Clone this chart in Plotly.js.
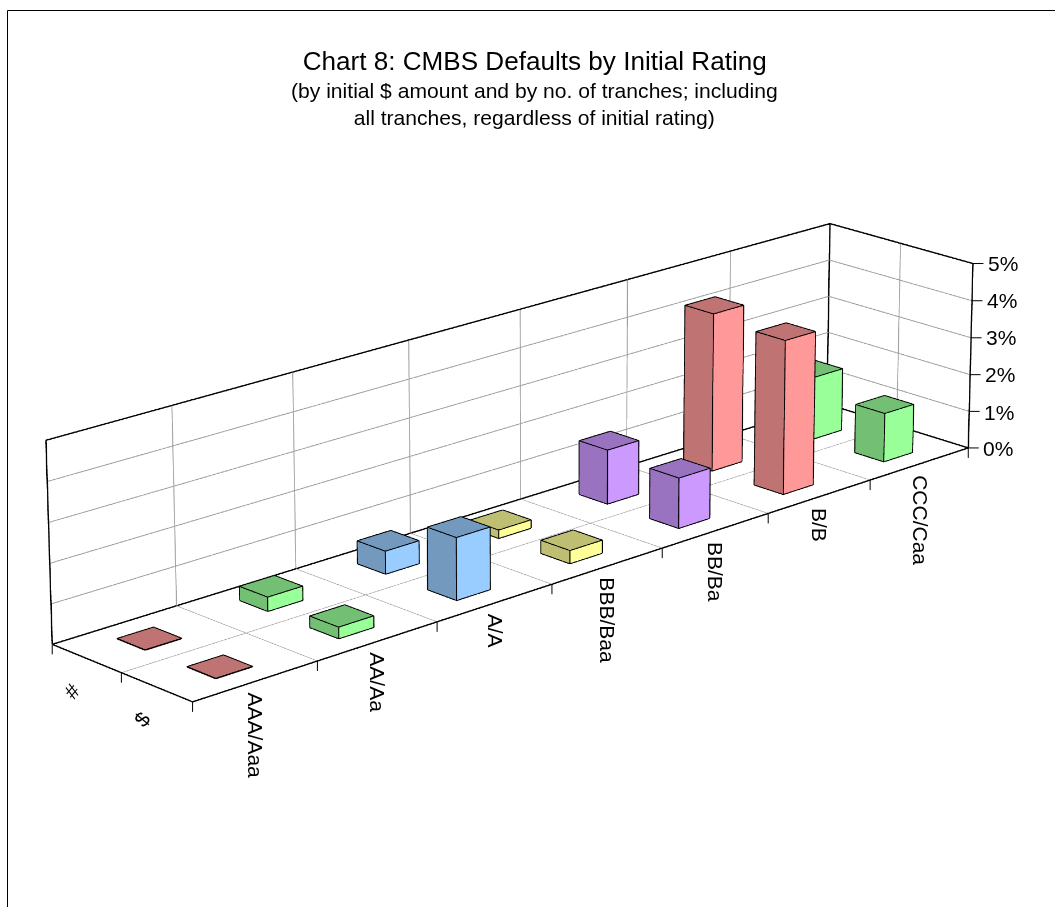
<!DOCTYPE html>
<html><head><meta charset="utf-8">
<script src="https://cdn.plot.ly/plotly-3.0.1.min.js"></script>
<style>html,body{margin:0;padding:0;background:#fff;overflow:hidden;width:1055px;height:907px}
#chart{position:absolute;left:-1px;top:-1804px;width:1458px;height:4316px}</style>
</head><body><div id="chart"></div>
<script>
// The plot is laid out larger than the window so the fixed 45 degree lens acts as a long one.
const PLOT_W = 1458, PLOT_H = 4316, PLOT_LEFT = -1, PLOT_TOP = -1804;
const paperX = px => (px - PLOT_LEFT) / PLOT_W;
const paperY = py => 1 - (py - PLOT_TOP) / PLOT_H;

const ratings = ['AAA/Aaa', 'AA/Aa', 'A/A', 'BBB/Baa', 'BB/Ba', 'B/B', 'CCC/Caa'];
const rows = ['$', '#'];
const dollarDefaults = [0, 0.28, 1.58, 0.33, 1.31, 4.07, 1.3];
const trancheDefaults = [0, 0.35, 0.58, 0.21, 1.42, 4.2, 1.68];
const percentTicks = [0, 1, 2, 3, 4, 5];
const lightFaces = ['#FF9999', '#99FF99', '#99CCFF', '#FFFF99', '#CC99FF', '#FF9999', '#99FF99'];
const darkFaces = ['#BF7373', '#73BF73', '#7399BF', '#BFBF73', '#9973BF', '#BF7373', '#73BF73'];

const traces = [];
const edgeX = [], edgeY = [], edgeZ = [];
function segment(a, b) {
  edgeX.push(a[0], b[0], null); edgeY.push(a[1], b[1], null); edgeZ.push(a[2], b[2], null);
}
function addBar(cat, row, v) {
  const x0 = cat + 0.355, x1 = cat + 0.645, y0 = row + 0.3, y1 = row + 0.7;
  traces.push({
    type: 'mesh3d', name: ratings[cat] + ' ' + rows[row],
    x: [x0, x1, x1, x0, x0, x1, x1, x0], y: [y0, y0, y1, y1, y0, y0, y1, y1], z: [0, 0, 0, 0, v, v, v, v],
    i: [4, 4, 0, 0, 0, 0], j: [5, 6, 1, 5, 3, 7], k: [6, 7, 5, 4, 7, 4],
    facecolor: [darkFaces[cat], darkFaces[cat], lightFaces[cat], lightFaces[cat], darkFaces[cat], darkFaces[cat]],
    flatshading: true, lighting: {ambient: 1, diffuse: 0, specular: 0, fresnel: 0, roughness: 1},
    hoverinfo: 'skip', showscale: false
  });
  // Outlines sit a hair toward the viewer so they stay in front of the faces they trace.
  const ex = x0 - 0.004, ey = y0 - 0.006, et = v + 0.012;
  segment([ex, ey, et], [x1, ey, et]); segment([x1, ey, et], [x1, y1, et]);
  segment([x1, y1, et], [ex, y1, et]); segment([ex, y1, et], [ex, ey, et]);
  segment([ex, ey, 0], [ex, ey, et]); segment([x1, ey, 0], [x1, ey, et]); segment([ex, y1, 0], [ex, y1, et]);
  segment([ex, ey, 0], [x1, ey, 0]); segment([ex, ey, 0], [ex, y1, 0]);
}
dollarDefaults.forEach((v, i) => addBar(i, 0, v));
trancheDefaults.forEach((v, i) => addBar(i, 1, v));
traces.push({type: 'scatter3d', mode: 'lines', x: edgeX, y: edgeY, z: edgeZ, line: {color: '#000', width: 2}, hoverinfo: 'skip', showlegend: false});

// Outline of the floor and the two back walls.
const nc = ratings.length, nr = rows.length, zTop = percentTicks[percentTicks.length - 1];
const boxX = [], boxY = [], boxZ = [];
[[[0, 0, 0], [nc, 0, 0]], [[0, nr, 0], [nc, nr, 0]], [[0, 0, 0], [0, nr, 0]], [[nc, 0, 0], [nc, nr, 0]],
 [[0, nr, 0], [0, nr, zTop]], [[nc, nr, 0], [nc, nr, zTop]], [[nc, 0, 0], [nc, 0, zTop]],
 [[0, nr, zTop], [nc, nr, zTop]], [[nc, 0, zTop], [nc, nr, zTop]]].forEach(s => {
  boxX.push(s[0][0], s[1][0], null); boxY.push(s[0][1], s[1][1], null); boxZ.push(s[0][2], s[1][2], null);
});
traces.push({type: 'scatter3d', mode: 'lines', x: boxX, y: boxY, z: boxZ, line: {color: '#000', width: 2.8}, hoverinfo: 'skip', showlegend: false});

const axisBase = {showline: false, showticklabels: false, zeroline: false, showspikes: false, ticks: '', title: {text: ''},
  showgrid: true, gridcolor: '#A0A0A0', gridwidth: 2, showbackground: false, autorange: false, tickmode: 'array'};

const labelFont = {family: 'Liberation Sans', size: 21, color: '#000'};
// A tick mark is a bare arrow; its near-empty label keeps the stem from being trimmed.
const tick = (x, y, z, ax, ay) => ({x, y, z, text: ' ', font: {size: 1}, borderpad: 0, showarrow: true, arrowhead: 0, arrowwidth: 1, arrowcolor: '#000', ax, ay, standoff: 0});
const anns = [];
ratings.forEach((t, i) => anns.push({x: i + 0.5, y: 0, z: 0, text: t, textangle: 90, showarrow: false, xanchor: 'center', yanchor: 'top', yshift: -9, font: labelFont}));
percentTicks.forEach(z => {
  anns.push({x: nc, y: 0, z, text: z + '%', showarrow: false, xanchor: 'left', yanchor: 'middle', xshift: 13, yshift: z < 2 ? -1 : 0.5, font: labelFont});
  anns.push(tick(nc, 0, z, 11, 0));
});
for (let i = 0; i <= nc; i++) anns.push(tick(i, 0, 0, 0, 11));
for (let r = 1; r <= nr; r++) anns.push(tick(0, r, 0, 0, 11));
rows.forEach((t, r) => anns.push({x: 0, y: r + 0.5, z: 0, text: t, showarrow: false, textangle: -50, xshift: -15, yshift: r ? -33 : -32, font: labelFont}));

const layout = {
  width: PLOT_W, height: PLOT_H, margin: {l: 0, r: 0, t: 0, b: 0}, paper_bgcolor: '#fff', showlegend: false,
  title: {text: 'Chart 8: CMBS Defaults by Initial Rating', x: paperX(534.7), xanchor: 'center', y: paperY(61), yanchor: 'middle',
    font: {family: 'Liberation Sans', size: 26.1, color: '#000'}},
  annotations: [{xref: 'paper', yref: 'paper', x: paperX(534.4), y: paperY(104), showarrow: false, xanchor: 'center', yanchor: 'middle',
    text: '(by initial $ amount and by no. of tranches; including<br>all tranches, regardless of initial rating)',
    font: {family: 'Liberation Sans', size: 21.1, color: '#000'}}],
  shapes: [{type: 'path', xref: 'paper', yref: 'paper', line: {color: '#000', width: 1},
    path: `M ${paperX(7.5)} ${paperY(907)} L ${paperX(7.5)} ${paperY(10.5)} L ${paperX(1055)} ${paperY(10.5)}`}],
  scene: {
    dragmode: 'orbit',
    domain: {x: [0, 1], y: [0, 1]}, aspectmode: 'manual', aspectratio: {x: 2.9937, y: 0.5823, z: 0.5736},
    camera: {eye: {x: -9.5187, y: -10.099, z: 4.6531}, center: {x: 0.4319, y: -0.3284, z: 0.2473}, up: {x: -0.0071, y: 0.0072, z: 1}, projection: {type: 'perspective'}},
    bgcolor: 'rgba(0,0,0,0)', hovermode: false, annotations: anns,
    xaxis: {...axisBase, range: [0, nc], tickvals: [1, 2, 3, 4, 5, 6]},
    yaxis: {...axisBase, range: [0, nr], tickvals: [1]},
    zaxis: {...axisBase, range: [0, zTop], tickvals: [1, 2, 3, 4]}
  }
};
Plotly.newPlot('chart', traces, layout, {displayModeBar: false, plotGlPixelRatio: 1.8});
</script></body></html>
